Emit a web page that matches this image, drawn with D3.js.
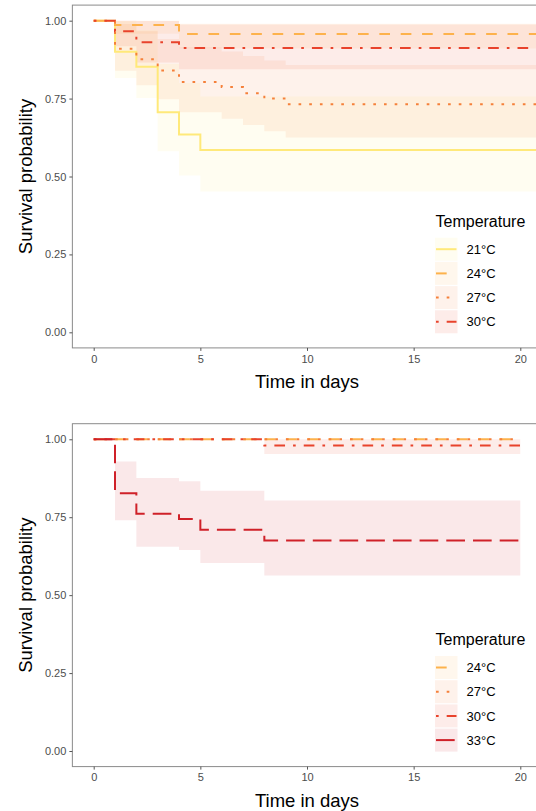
<!DOCTYPE html>
<html><head><meta charset="utf-8">
<script src="https://cdn.jsdelivr.net/npm/d3@7"></script>
<style>body{margin:0;background:#fff;}svg{display:block;font-family:"Liberation Sans",Arial,sans-serif;}</style>
</head><body>
<svg id="c" width="536" height="811"></svg>
<script>
// ---------- DATA ----------
const xTicks = [0, 5, 10, 15, 20];
const yTicks = [0, 0.25, 0.5, 0.75, 1];
const yTickLabels = ["0.00", "0.25", "0.50", "0.75", "1.00"];

const topGroups = ["21°C", "24°C", "27°C", "30°C"];
const bottomGroups = ["24°C", "27°C", "30°C", "33°C"];

// Top panel
const t21Time  = [0, 1, 2, 3, 4, 5, 22];
const t21Surv  = [1, 0.900, 0.852, 0.706, 0.635, 0.585, 0.585];
const t21Lower = [1, 0.816, 0.752, 0.581, 0.503, 0.452, 0.452];
const t21Upper = [1, 0.998, 0.969, 0.861, 0.800, 0.757, 0.757];

const t24Time  = [0, 1, 4, 22];
const t24Surv  = [1, 0.986, 0.957, 0.957];
const t24Lower = [1, 0.958, 0.911, 0.911];
const t24Upper = [1, 1.000, 0.990, 0.990];

const t27Time  = [0, 1, 2, 3, 4, 6, 7, 8, 9, 22];
const t27Surv  = [1, 0.910, 0.876, 0.840, 0.803, 0.787, 0.767, 0.750, 0.732, 0.732];
const t27Lower = [1, 0.839, 0.793, 0.748, 0.706, 0.685, 0.665, 0.645, 0.625, 0.625];
const t27Upper = [1, 0.989, 0.966, 0.941, 0.915, 0.901, 0.887, 0.872, 0.858, 0.858];

const t30Time  = [0, 1, 2, 4, 22];
const t30Surv  = [1, 0.966, 0.931, 0.912, 0.912];
const t30Lower = [1, 0.918, 0.866, 0.844, 0.844];
const t30Upper = [1, 1.000, 0.999, 0.988, 0.988];

// Bottom panel
const b24Time  = [0, 20];
const b24Surv  = [1, 1];
const b24Lower = [1, 1];
const b24Upper = [1, 1];

const b27Time  = [0, 20];
const b27Surv  = [1, 1];
const b27Lower = [1, 1];
const b27Upper = [1, 1];

const b30Time  = [0, 8, 20];
const b30Surv  = [1, 0.980, 0.980];
const b30Lower = [1, 0.953, 0.953];
const b30Upper = [1, 1.000, 1.000];

const b33Time  = [0, 1, 2, 4, 5, 8, 20];
const b33Surv  = [1, 0.827, 0.761, 0.744, 0.710, 0.675, 0.675];
const b33Lower = [1, 0.740, 0.655, 0.645, 0.603, 0.563, 0.563];
const b33Upper = [1, 0.929, 0.876, 0.865, 0.835, 0.804, 0.804];

// ---------- STYLES ----------
const colors = {"21°C": "#FFE97A", "24°C": "#FDB24C", "27°C": "#F5803A", "30°C": "#E8432C", "33°C": "#CF2129"};
const u = 2.67;
const dashes = {"21°C": null, "24°C": [4*u, 4*u], "27°C": [1*u, 3*u], "30°C": [1*u, 3*u, 4*u, 3*u], "33°C": [7*u, 3*u]};
const bandAlpha = 0.1;

function mk(time, surv, lower, upper) {
  return time.map((t, i) => ({t: t, s: surv[i], lo: lower[i], hi: upper[i]}));
}
const topSeries = {
  "21°C": mk(t21Time, t21Surv, t21Lower, t21Upper),
  "24°C": mk(t24Time, t24Surv, t24Lower, t24Upper),
  "27°C": mk(t27Time, t27Surv, t27Lower, t27Upper),
  "30°C": mk(t30Time, t30Surv, t30Lower, t30Upper)
};
const bottomSeries = {
  "24°C": mk(b24Time, b24Surv, b24Lower, b24Upper),
  "27°C": mk(b27Time, b27Surv, b27Lower, b27Upper),
  "30°C": mk(b30Time, b30Surv, b30Lower, b30Upper),
  "33°C": mk(b33Time, b33Surv, b33Lower, b33Upper)
};

const svg = d3.select("#c");

function panel(id, groups, series, yTop, yBottom, legendTop) {
  const x = d3.scaleLinear().domain([-1, 21]).range([72.37, 541.63]);
  const y = d3.scaleLinear().domain([-0.05, 1.05]).range([yBottom, yTop]);
  const g = svg.append("g");
  g.append("clipPath").attr("id", "clip" + id)
    .append("rect").attr("x", x(-1)).attr("y", y(1.05)).attr("width", x(21) - x(-1)).attr("height", y(-0.05) - y(1.05));
  const plot = g.append("g").attr("clip-path", "url(#clip" + id + ")");

  const area = d3.area().curve(d3.curveStepAfter).x(d => x(d.t)).y0(d => y(d.lo)).y1(d => y(d.hi));
  const line = d3.line().curve(d3.curveStepAfter).x(d => x(d.t)).y(d => y(d.s));

  groups.forEach(k => {
    plot.append("path").attr("d", area(series[k])).attr("fill", colors[k]).attr("fill-opacity", bandAlpha).attr("stroke", "none");
  });
  groups.forEach(k => {
    plot.append("path").attr("d", line(series[k])).attr("fill", "none").attr("stroke", colors[k])
      .attr("stroke-width", 2).attr("stroke-dasharray", dashes[k] ? dashes[k].join(",") : null);
  });

  // frame
  g.append("rect").attr("x", x(-1)).attr("y", y(1.05)).attr("width", x(21) - x(-1)).attr("height", y(-0.05) - y(1.05))
    .attr("fill", "none").attr("stroke", "#8a8a8a").attr("stroke-width", 1);

  // y axis
  const ya = d3.axisLeft(y).tickValues(yTicks).tickSize(3).tickPadding(3).tickFormat((d, i) => yTickLabels[i]);
  const yg = g.append("g").attr("transform", `translate(${x(-1)},0)`).call(ya);
  yg.select(".domain").remove();
  yg.selectAll("line").attr("stroke", "#555");
  yg.selectAll("text").attr("fill", "#4d4d4d").style("font-size", "11px").style("font-family", "Liberation Sans, Arial, sans-serif");

  // x axis
  const xa = d3.axisBottom(x).tickValues(xTicks).tickSize(3).tickPadding(4).tickFormat(d3.format("d"));
  const xg = g.append("g").attr("transform", `translate(0,${y(-0.05)})`).call(xa);
  xg.select(".domain").remove();
  xg.selectAll("line").attr("stroke", "#555");
  xg.selectAll("text").attr("fill", "#4d4d4d").style("font-size", "11px").style("font-family", "Liberation Sans, Arial, sans-serif");

  // titles
  g.append("text").attr("x", (x(-1) + x(21)) / 2).attr("y", y(-0.05) + 40).attr("text-anchor", "middle")
    .style("font-size", "18.5px").attr("fill", "#000").text("Time in days");
  g.append("text").attr("transform", `translate(31.5,${(y(1.05) + y(-0.05)) / 2}) rotate(-90)`).attr("text-anchor", "middle")
    .style("font-size", "18.5px").attr("fill", "#000").text("Survival probability");

  // legend
  const lg = g.append("g");
  lg.append("text").attr("x", 435.5).attr("y", legendTop).style("font-size", "16px").attr("fill", "#000").text("Temperature");
  groups.forEach((k, i) => {
    const cy = legendTop + 22.5 + i * 24.2;
    lg.append("rect").attr("x", 435).attr("y", cy - 11.5).attr("width", 22.5).attr("height", 23)
      .attr("fill", colors[k]).attr("fill-opacity", bandAlpha);
    lg.append("line").attr("x1", 436).attr("x2", 456.5).attr("y1", cy).attr("y2", cy)
      .attr("stroke", colors[k]).attr("stroke-width", 2).attr("stroke-dasharray", dashes[k] ? dashes[k].join(",") : null);
    lg.append("text").attr("x", 466.5).attr("y", cy + 4.6).style("font-size", "13px").attr("fill", "#000").text(k);
  });
}

panel("a", topGroups, topSeries, 5.1, 347.9, 226.7);
panel("b", bottomGroups, bottomSeries, 423.7, 766.6, 645);
</script>
</body></html>
